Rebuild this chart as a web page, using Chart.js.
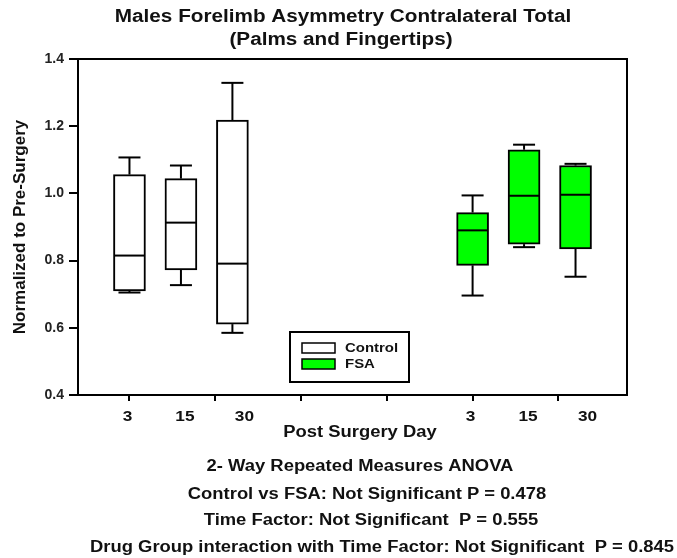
<!DOCTYPE html>
<html>
<head>
<meta charset="utf-8">
<script src="https://cdn.jsdelivr.net/npm/chart.js@4/dist/chart.umd.min.js"></script>
<style>
  html, body { margin: 0; padding: 0; background: #fff; }
  #wrap { position: relative; width: 677px; height: 558px; }
</style>
</head>
<body>
<div id="wrap"><canvas id="asym-chart"></canvas></div>
<script>
// Post-surgery days and treatment groups
const days = ["3", "15", "30"];
const groups = ["Control", "FSA"];

// Box plot statistics per day (whisker min, Q1, median, Q3, whisker max)
const controlMin = [0.705, 0.727, 0.585];
const controlQ1 = [0.710, 0.772, 0.611];
const controlMedian = [0.815, 0.913, 0.791];
const controlQ3 = [1.056, 1.044, 1.218];
const controlMax = [1.107, 1.083, 1.329];

const fsaMin = [0.696, 0.840, 0.752];
const fsaQ1 = [0.786, 0.849, 0.835];
const fsaMedian = [0.890, 0.993, 0.996];
const fsaQ3 = [0.943, 1.130, 1.083];
const fsaMax = [0.994, 1.145, 1.088];

const yTicks = [0.4, 0.6, 0.8, 1.0, 1.2, 1.4];
const xTicks = [1, 2, 3, 4, 5, 6];

const anovaLines = [
  "2- Way Repeated Measures ANOVA",
  "Control vs FSA: Not Significant P = 0.478",
  "Time Factor: Not Significant  P = 0.555",
  "Drug Group interaction with Time Factor: Not Significant  P = 0.845",
];

// layout of the x axis: each group starts at an axis unit, boxes step 0.6 apart
const GROUP_START = [1, 5];
const SLOT_STEP = 0.6;
const FONT = '"Liberation Sans", Arial, Helvetica, sans-serif';
const TEXT_STRETCH = 1.15;
const INK = "#111";

const slotX = (g, i) => GROUP_START[g] + i * SLOT_STEP;

const stats = [
  { min: controlMin, q1: controlQ1, med: controlMedian, q3: controlQ3, max: controlMax, fill: "#ffffff" },
  { min: fsaMin, q1: fsaQ1, med: fsaMedian, q3: fsaQ3, max: fsaMax, fill: "#00ff00" },
];

const datasets = stats.map((s, g) => ({
  label: groups[g],
  stack: "box",
  data: days.map((d, i) => ({ x: slotX(g, i), y: [s.q1[i], s.q3[i]] })),
  backgroundColor: s.fill,
  borderColor: "#000",
  borderWidth: 2,
  borderSkipped: false,
  barThickness: 32,
}));

const drawText = (ctx, text, x, y, size, align = "center") => {
  ctx.save();
  ctx.font = `bold ${size}px ${FONT}`;
  ctx.fillStyle = INK;
  ctx.textAlign = align;
  ctx.textBaseline = "middle";
  ctx.translate(x, y);
  ctx.scale(TEXT_STRETCH, 1);
  ctx.fillText(text, 0, 0);
  ctx.restore();
};

// whiskers, medians, frame, legend and all the free text
const boxPlotExtras = {
  id: "boxPlotExtras",
  afterDatasetsDraw(chart) {
    const { ctx, chartArea, scales } = chart;
    const xs = scales.x;
    const ys = scales.y;

    ctx.save();
    ctx.strokeStyle = "#000";
    ctx.lineWidth = 2;
    stats.forEach((s, g) => {
      days.forEach((d, i) => {
        const cx = xs.getPixelForValue(slotX(g, i));
        const half = 15;
        const cap = 11;
        const line = (x1, y1, x2, y2) => {
          ctx.beginPath();
          ctx.moveTo(x1, y1);
          ctx.lineTo(x2, y2);
          ctx.stroke();
        };
        // median
        const ym = ys.getPixelForValue(s.med[i]);
        line(cx - half, ym, cx + half, ym);
        // upper whisker
        const yq3 = ys.getPixelForValue(s.q3[i]);
        const ymax = ys.getPixelForValue(s.max[i]);
        line(cx, yq3, cx, ymax);
        line(cx - cap, ymax, cx + cap, ymax);
        // lower whisker
        const yq1 = ys.getPixelForValue(s.q1[i]);
        const ymin = ys.getPixelForValue(s.min[i]);
        line(cx, yq1, cx, ymin);
        line(cx - cap, ymin, cx + cap, ymin);
      });
    });

    // plot frame
    ctx.strokeRect(chartArea.left, chartArea.top, chartArea.right - chartArea.left, chartArea.bottom - chartArea.top);

    // legend box
    const lx = chartArea.left + 212;
    const ly = chartArea.top + 273;
    ctx.fillStyle = "#fff";
    ctx.fillRect(lx, ly, 119, 50);
    ctx.strokeRect(lx, ly, 119, 50);
    stats.forEach((s, g) => {
      const sy = ly + 11 + g * 16;
      ctx.fillStyle = s.fill;
      ctx.fillRect(lx + 12, sy, 33, 10);
      ctx.lineWidth = 1.5;
      ctx.strokeRect(lx + 12, sy, 33, 10);
      drawText(ctx, groups[g], lx + 55, sy + 5, 13, "left");
    });
    ctx.restore();

    // x tick labels under each box
    const shift = [-2, 4, 12];
    groups.forEach((grp, g) => {
      days.forEach((d, i) => {
        drawText(ctx, d, xs.getPixelForValue(slotX(g, i)) + shift[i], chartArea.bottom + 22, 15);
      });
    });
  },
  afterDraw(chart) {
    const { ctx, chartArea } = chart;
    // title
    drawText(ctx, "Males Forelimb Asymmetry Contralateral Total", 343, 17, 18);
    drawText(ctx, "(Palms and Fingertips)", 341, 40, 18);
    // axis titles
    drawText(ctx, "Post Surgery Day", 360, chartArea.bottom + 38, 16);
    ctx.save();
    ctx.translate(20, (chartArea.top + chartArea.bottom) / 2);
    ctx.rotate(-Math.PI / 2);
    ctx.font = `bold 17px ${FONT}`;
    ctx.fillStyle = INK;
    ctx.textAlign = "center";
    ctx.textBaseline = "middle";
    ctx.fillText("Normalized to Pre-Surgery", 0, 0);
    ctx.restore();
    // statistics notes
    const noteX = [360, 367, 371, 382];
    const noteY = [467, 495, 521, 548];
    anovaLines.forEach((txt, k) => drawText(ctx, txt, noteX[k], noteY[k], 16));
  },
};

new Chart(document.getElementById("asym-chart"), {
  type: "bar",
  data: { datasets },
  options: {
    responsive: true,
    maintainAspectRatio: false,
    animation: false,
    layout: { padding: { left: 0, right: 50, top: 59, bottom: 143 } },
    plugins: {
      legend: { display: false },
      tooltip: { enabled: false },
    },
    scales: {
      x: {
        type: "linear",
        min: 0.4,
        max: 6.8,
        offset: false,
        afterBuildTicks: (scale) => {
          scale.ticks = xTicks.map((value) => ({ value }));
        },
        afterFit: (scale) => {
          scale.height = 20;
        },
        ticks: { callback: () => "", padding: 0 },
        grid: { offset: false, drawOnChartArea: false, drawTicks: true, tickLength: 6, color: "#000", lineWidth: 2 },
        border: { display: true, color: "#000", width: 2 },
      },
      y: {
        min: 0.4,
        max: 1.4,
        stacked: false,
        afterBuildTicks: (scale) => {
          scale.ticks = yTicks.map((value) => ({ value }));
        },
        afterFit: (scale) => {
          scale.width = 78;
        },
        ticks: {
          callback: (v) => Number(v).toFixed(1),
          color: "#222",
          font: { family: FONT, size: 14, weight: "bold" },
          padding: 5,
        },
        grid: { drawOnChartArea: false, drawTicks: true, tickLength: 9, color: "#000", lineWidth: 2 },
        border: { display: true, color: "#000", width: 2 },
      },
    },
  },
  plugins: [boxPlotExtras],
});
</script>
</body>
</html>
